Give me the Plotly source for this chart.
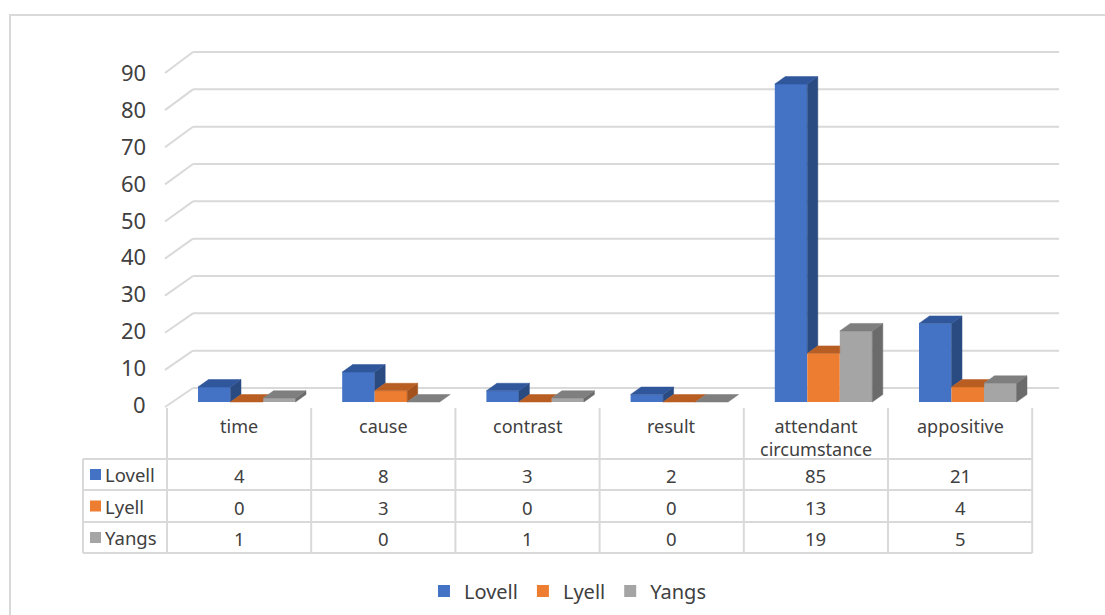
import plotly.graph_objects as go

# ---------------- data ----------------
categories = ["time", "cause", "contrast", "result", "attendant circumstance", "appositive"]
series_names = ["Lovell", "Lyell", "Yangs"]
lovell = [4, 8, 3, 2, 85, 21]
lyell = [0, 3, 0, 0, 13, 4]
yangs = [1, 0, 1, 0, 19, 5]
y_ticks = [0, 10, 20, 30, 40, 50, 60, 70, 80, 90]

series_values = [lovell, lyell, yangs]
front_colors = ["#4472C4", "#ED7D31", "#A5A5A5"]
top_colors = ["#30579B", "#B95E23", "#7F7F7F"]
side_colors = ["#2A4A82", "#A4521D", "#6B6B6B"]

# ---------------- geometry ----------------
W, H = 1105, 615
COL_LEFT, COL_W = 167.0, 144.2
ZERO_PX, PX_PER_UNIT = 402.0, 3.74
FONT = "Noto Sans"
TXT = "#404040"
GRID = "#D9D9D9"


def px_to_x(px):
    return (px - COL_LEFT) / COL_W - 0.5


def px(xp):
    return xp / W


def py(yp):
    return 1 - yp / H


X_RANGE = [px_to_x(0), px_to_x(W)]
Y_RANGE = [(ZERO_PX - H) / PX_PER_UNIT, ZERO_PX / PX_PER_UNIT]

BAR_W = 32.5 / COL_W
FIRST_OFF = 31.0 / COL_W - 0.5 + BAR_W / 2
DX = 10.5 / COL_W
DY = 7.5 / PX_PER_UNIT

fig = go.Figure()

# ---------------- 3D faces (top and side) ----------------
for ci in range(len(categories)):
    for si in range(len(series_names)):
        v = series_values[si][ci]
        xc = ci + FIRST_OFF + si * BAR_W
        xl, xr = xc - BAR_W / 2, xc + BAR_W / 2
        v_next = series_values[si + 1][ci] if si + 1 < len(series_names) else None
        nxt = 0 if v_next is None else v_next
        # side face (visible part)
        if v > nxt:
            sx = [xr, xr, xr + DX, xr + DX, xr]
            sy = [nxt, v, v + DY, nxt + DY, nxt]
            fig.add_trace(go.Scatter(x=sx, y=sy, fill="toself", mode="lines",
                                     fillcolor=side_colors[si],
                                     line=dict(color=side_colors[si], width=0.5),
                                     hoverinfo="skip", showlegend=False))
        # top face (clipped by next bar)
        t = 0 if v_next is None else min(max(v_next - v, 0), DY)
        tx = [xl, xr, xr, xr + DX * (DY - t) / DY, xl + DX, xl]
        ty = [v, v, v + t, v + DY, v + DY, v]
        fig.add_trace(go.Scatter(x=tx, y=ty, fill="toself", mode="lines",
                                 fillcolor=top_colors[si],
                                 line=dict(color=top_colors[si], width=0.5),
                                 hoverinfo="skip", showlegend=False))

# ---------------- front faces (bars) ----------------
for si, name in enumerate(series_names):
    fig.add_trace(go.Bar(
        x=[ci + FIRST_OFF + si * BAR_W for ci in range(len(categories))],
        y=series_values[si], width=BAR_W, name=name,
        marker=dict(color=front_colors[si], line=dict(width=0)),
        hovertemplate=name + ": %{y}<extra></extra>"))

# ---------------- walls / gridlines ----------------
shapes = []
BACK_L, BACK_R = 193, 1059
for v in y_ticks:
    yb = 388 - v * 3.733
    yf = 407 - v * 3.711
    shapes.append(dict(type="line", xref="paper", yref="paper",
                       x0=px(BACK_L), x1=px(BACK_R), y0=py(yb), y1=py(yb),
                       line=dict(color=GRID, width=2), layer="below"))
    shapes.append(dict(type="line", xref="paper", yref="paper",
                       x0=px(165), x1=px(BACK_L), y0=py(yf), y1=py(yb),
                       line=dict(color=GRID, width=2), layer="below"))

# outer chart border
shapes.append(dict(type="rect", xref="paper", yref="paper",
                   x0=px(10), x1=px(W + 20), y0=py(15), y1=py(H + 20),
                   line=dict(color=GRID, width=2), layer="below"))

# ---------------- data table ----------------
TABLE_TOP = 408
ROW_LINES = [459, 490, 522, 553]
TBL_LEFT = 83
col_edges = [COL_LEFT + i * COL_W for i in range(len(categories) + 1)]
for xe in col_edges:
    shapes.append(dict(type="line", xref="paper", yref="paper",
                       x0=px(xe), x1=px(xe), y0=py(TABLE_TOP), y1=py(ROW_LINES[-1]),
                       line=dict(color=GRID, width=2)))
for yl in ROW_LINES:
    shapes.append(dict(type="line", xref="paper", yref="paper",
                       x0=px(TBL_LEFT), x1=px(col_edges[-1]), y0=py(yl), y1=py(yl),
                       line=dict(color=GRID, width=2)))
shapes.append(dict(type="line", xref="paper", yref="paper",
                   x0=px(TBL_LEFT), x1=px(TBL_LEFT), y0=py(ROW_LINES[0]), y1=py(ROW_LINES[-1]),
                   line=dict(color=GRID, width=2)))

annotations = []
# y axis tick labels
for v in y_ticks:
    annotations.append(dict(xref="paper", yref="paper", x=px(148), y=py(404 - v * 3.689),
                            text=str(v), showarrow=False, xanchor="right", yanchor="middle",
                            font=dict(family=FONT, size=22, color=TXT)))

# category header (wrapped onto lines, first line aligned with single-line labels)
for ci, c in enumerate(categories):
    parts = c.split(" ")
    annotations.append(dict(xref="x", yref="paper", x=ci, y=py(426 + (len(parts) - 1) * 11.5),
                            text="<br>".join(parts), showarrow=False,
                            xanchor="center", yanchor="middle", borderpad=0,
                            font=dict(family=FONT, size=18, color=TXT)))

# rows
row_centers = [(ROW_LINES[i] + ROW_LINES[i + 1]) / 2 for i in range(3)]
for si, name in enumerate(series_names):
    yc = row_centers[si]
    shapes.append(dict(type="rect", xref="paper", yref="paper",
                       x0=px(90), x1=px(101), y0=py(yc - 5.5), y1=py(yc + 5.5),
                       fillcolor=front_colors[si], line=dict(width=0)))
    annotations.append(dict(xref="paper", yref="paper", x=px(103), y=py(yc),
                            text=name, showarrow=False, xanchor="left", yanchor="middle",
                            font=dict(family=FONT, size=18.5, color=TXT)))
    for ci in range(len(categories)):
        annotations.append(dict(xref="x", yref="paper", x=ci, y=py(yc + 1),
                                text=str(series_values[si][ci]), showarrow=False,
                                xanchor="center", yanchor="middle", borderpad=0,
                                font=dict(family=FONT, size=18.5, color=TXT)))

fig.update_layout(
    width=W, height=H, autosize=False,
    margin=dict(l=0, r=0, t=0, b=0),
    paper_bgcolor="white", plot_bgcolor="rgba(0,0,0,0)",
    barmode="overlay",
    xaxis=dict(range=X_RANGE, visible=False, fixedrange=True),
    yaxis=dict(range=Y_RANGE, visible=False, fixedrange=True),
    showlegend=True,
    legend=dict(orientation="h", x=0.514, xanchor="center", y=py(591), yanchor="middle",
                font=dict(family=FONT, size=20, color=TXT), itemwidth=30,
                traceorder="normal", bgcolor="rgba(0,0,0,0)"),
    shapes=shapes, annotations=annotations,
)

fig.write_html("out.html")
